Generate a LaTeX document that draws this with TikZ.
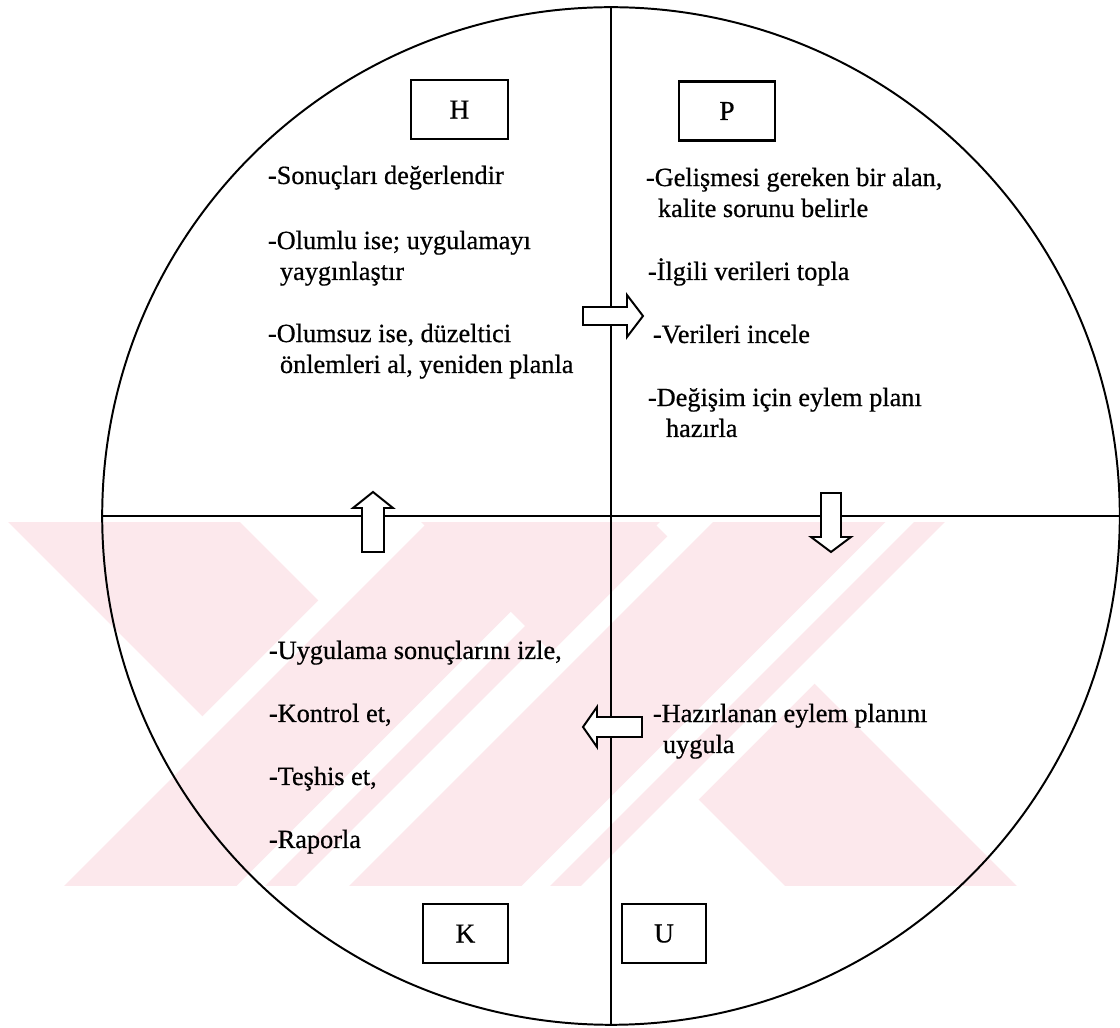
\documentclass[tikz,border=0pt]{standalone}
\usepackage{fontspec}
\setmainfont{Liberation Serif}
\newfontfamily\scanfont{Liberation Serif}[FakeBold=0.6]
\usepackage{tikz}

\definecolor{wmpink}{RGB}{252,232,236}

\tikzset{
  stepitem/.style={anchor=base west, align=left, inner sep=0pt, font=\scanfont\fontsize{18.7}{22}\selectfont},
  letterbox/.style={draw=black, line width=1.5pt, minimum height=1.475cm, inner sep=0pt, font=\scanfont\fontsize{19.5}{22}\selectfont},
  blockarrow/.style={draw=black, line width=1.4pt, fill=white, line join=miter}
}

\begin{document}
\begin{tikzpicture}[line width=1.4pt]
				\useasboundingbox (-15.275,-12.8) rectangle (12.725,12.9);
				
				% watermark in the lower half
				\begin{scope}
				\clip (-15.275,-0.175) rectangle (10.225,-9.25);
				\foreach \cx/\cy in {-6.925/-5.4, 1.8/-3.8}{
				\fill[wmpink, shift={(\cx,\cy)}, rotate=-45] (-12,-2.05) rectangle (12,2.05);
				\fill[white, shift={(\cx,\cy)}, rotate=45] (-12,-2.6) rectangle (12,2.6);
				\fill[wmpink, shift={(\cx,\cy)}, rotate=45] (-12,-2.05) rectangle (12,2.05);
				\fill[white, shift={(\cx,\cy)}, rotate=45] (-12,-1.5) rectangle (12,-1.0);
				}
				\end{scope}
				
				\coordinate (c) at (0,0);
				\coordinate (w) at (-12.72,0);
				\coordinate (e) at (12.72,0);
				\coordinate (n) at (0,12.72);
				\coordinate (s) at (0,-12.72);
				
				\draw (c) circle (12.72);
				\draw (w) -- (e);
				\draw (n) -- (s);
				
				\node[letterbox, minimum width=2.425cm] (H) at (-3.79,10.16){H};
				\node[letterbox, minimum width=2.4cm] (P) at (2.9,10.125){P};
				\node[letterbox, minimum width=2.125cm] (K) at (-3.64,-10.44){K};
				\node[letterbox, minimum width=2.1cm] (U) at (1.325,-10.44){U};
				
				\node[stepitem] (h1) at (-8.6,8.3){-Sonuçları değerlendir};
				\node[stepitem] (h2) at (-8.6,5.9){-Olumlu ise; uygulamayı\\\hspace*{0.3cm}yaygınlaştır};
				\node[stepitem] (h3) at (-8.6,3.575){-Olumsuz ise, düzeltici\\\hspace*{0.3cm}önlemleri al, yeniden planla};
				
				\node[stepitem] (p1) at (0.85,7.475){-Gelişmesi gereken bir alan,\\\hspace*{0.3cm}kalite sorunu belirle};
				\node[stepitem] (p2) at (0.9,5.9){-İlgili verileri topla};
				\node[stepitem] (p3) at (1.025,4.325){-Verileri incele};
				\node[stepitem] (p4) at (0.9,1.975){-Değişim için eylem planı\\\hspace*{0.45cm}hazırla};
				
				\node[stepitem] (u1) at (1.025,-5.925){-Hazırlanan eylem planını\\\hspace*{0.25cm}uygula};
				
				\node[stepitem] (k1) at (-8.575,-3.575){-Uygulama sonuçlarını izle,};
				\node[stepitem] (k2) at (-8.575,-5.15){-Kontrol et,};
				\node[stepitem] (k3) at (-8.575,-6.725){-Teşhis et,};
				\node[stepitem] (k4) at (-8.575,-8.3){-Raporla};
				
				% block arrows between the quarters
				\draw[blockarrow] (-0.7,4.775) -- (0.4,4.775) -- (0.4,4.475) -- (0.8,5) -- (0.4,5.525) -- (0.4,5.225) -- (-0.7,5.225) -- cycle;
				\draw[blockarrow] (5.25,0.575) -- (5.25,-0.525) -- (5,-0.525) -- (5.5,-0.9) -- (6,-0.525) -- (5.75,-0.525) -- (5.75,0.575) -- cycle;
				\draw[blockarrow] (0.775,-5.025) -- (-0.35,-5.025) -- (-0.35,-4.775) -- (-0.7,-5.275) -- (-0.35,-5.775) -- (-0.35,-5.525) -- (0.775,-5.525) -- cycle;
				\draw[blockarrow] (-6.225,-0.9) -- (-6.225,0.2) -- (-6.45,0.2) -- (-5.95,0.6) -- (-5.45,0.2) -- (-5.675,0.2) -- (-5.675,-0.9) -- cycle;
\end{tikzpicture}
\end{document}
